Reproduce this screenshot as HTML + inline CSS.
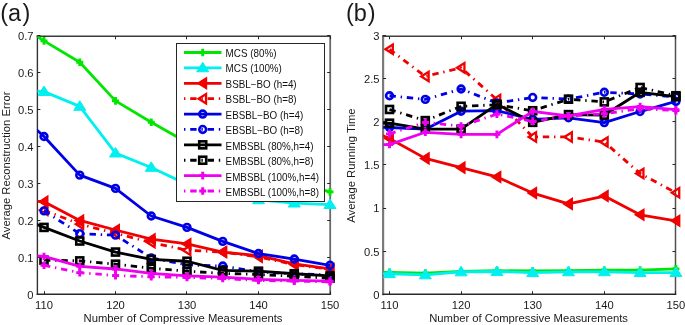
<!DOCTYPE html>
<html><head><meta charset="utf-8"><style>
html,body{margin:0;padding:0;background:#fff;}
body{width:685px;height:325px;overflow:hidden;}
svg{display:block;will-change:transform;filter:blur(0.3px);}
text{font-family:"Liberation Sans",sans-serif;fill:#1a1a1a;}
.t{font-size:11.2px;}
.l{font-size:10px;fill:#111;}
.a{font-size:11.25px;}
.p{font-size:23.5px;}
</style></head><body>
<svg width="685" height="325" viewBox="0 0 685 325">
<rect width="685" height="325" fill="#fff"/>
<path d="M37.4 36.3L37.4 294.2" stroke="#333" stroke-width="1.4" stroke-linecap="square"/>
<path d="M330.2 36.3L330.2 294.2" stroke="#6a6a6a" stroke-width="1.8" stroke-linecap="square"/>
<path d="M37.4 36.3L330.2 36.3" stroke="#3a3a3a" stroke-width="1.4" stroke-linecap="square"/>
<path d="M37.4 294.2L330.2 294.2" stroke="#2a2a2a" stroke-width="1.4" stroke-linecap="square"/>
<path d="M44.5 294.2v-3M44.5 36.3v3M115.5 294.2v-3M115.5 36.3v3M186.5 294.2v-3M186.5 36.3v3M258.5 294.2v-3M258.5 36.3v3M330.5 294.2v-3M330.5 36.3v3M37.4 294.5h3M330.2 294.5h-3M37.4 257.5h3M330.2 257.5h-3M37.4 220.5h3M330.2 220.5h-3M37.4 183.5h3M330.2 183.5h-3M37.4 146.5h3M330.2 146.5h-3M37.4 109.5h3M330.2 109.5h-3M37.4 72.5h3M330.2 72.5h-3M37.4 35.5h3M330.2 35.5h-3" stroke="#262626" stroke-width="1" fill="none"/>
<text x="44.00" y="308.7" text-anchor="middle" class="t">110</text>
<text x="115.50" y="308.7" text-anchor="middle" class="t">120</text>
<text x="187.00" y="308.7" text-anchor="middle" class="t">130</text>
<text x="258.50" y="308.7" text-anchor="middle" class="t">140</text>
<text x="330.00" y="308.7" text-anchor="middle" class="t">150</text>
<text x="33.5" y="298.60" text-anchor="end" class="t">0</text>
<text x="33.5" y="261.65" text-anchor="end" class="t">0.1</text>
<text x="33.5" y="224.70" text-anchor="end" class="t">0.2</text>
<text x="33.5" y="187.75" text-anchor="end" class="t">0.3</text>
<text x="33.5" y="150.80" text-anchor="end" class="t">0.4</text>
<text x="33.5" y="113.85" text-anchor="end" class="t">0.5</text>
<text x="33.5" y="76.90" text-anchor="end" class="t">0.6</text>
<text x="33.5" y="39.95" text-anchor="end" class="t">0.7</text>
<clipPath id="ca"><rect x="37.4" y="36.3" width="292.8" height="257.9"/></clipPath>
<g clip-path="url(#ca)"><path d="M8.25 17.34L44.00 40.88L79.75 62.22L115.50 100.85L151.25 122.19L187.00 142.43L222.75 156.04L258.50 169.65L294.25 181.79L330.00 191.91" fill="none" stroke="#00e600" stroke-width="2.8" stroke-linejoin="round"/></g>
<path d="M40.50 40.88H47.50M44.00 37.08V44.68" stroke="#00e600" stroke-width="2.9" fill="none"/><rect x="42.10" y="38.98" width="3.8" height="3.8" fill="#00e600" transform="rotate(45 44.00 40.88)"/><path d="M76.25 62.22H83.25M79.75 58.42V66.02" stroke="#00e600" stroke-width="2.9" fill="none"/><rect x="77.85" y="60.32" width="3.8" height="3.8" fill="#00e600" transform="rotate(45 79.75 62.22)"/><path d="M112.00 100.85H119.00M115.50 97.05V104.65" stroke="#00e600" stroke-width="2.9" fill="none"/><rect x="113.60" y="98.95" width="3.8" height="3.8" fill="#00e600" transform="rotate(45 115.50 100.85)"/><path d="M147.75 122.19H154.75M151.25 118.39V125.99" stroke="#00e600" stroke-width="2.9" fill="none"/><rect x="149.35" y="120.29" width="3.8" height="3.8" fill="#00e600" transform="rotate(45 151.25 122.19)"/><path d="M183.50 142.43H190.50M187.00 138.63V146.23" stroke="#00e600" stroke-width="2.9" fill="none"/><rect x="185.10" y="140.53" width="3.8" height="3.8" fill="#00e600" transform="rotate(45 187.00 142.43)"/><path d="M219.25 156.04H226.25M222.75 152.24V159.84" stroke="#00e600" stroke-width="2.9" fill="none"/><rect x="220.85" y="154.14" width="3.8" height="3.8" fill="#00e600" transform="rotate(45 222.75 156.04)"/><path d="M255.00 169.65H262.00M258.50 165.85V173.45" stroke="#00e600" stroke-width="2.9" fill="none"/><rect x="256.60" y="167.75" width="3.8" height="3.8" fill="#00e600" transform="rotate(45 258.50 169.65)"/><path d="M290.75 181.79H297.75M294.25 177.99V185.59" stroke="#00e600" stroke-width="2.9" fill="none"/><rect x="292.35" y="179.89" width="3.8" height="3.8" fill="#00e600" transform="rotate(45 294.25 181.79)"/><path d="M326.50 191.91H333.50M330.00 188.11V195.71" stroke="#00e600" stroke-width="2.9" fill="none"/><rect x="328.10" y="190.01" width="3.8" height="3.8" fill="#00e600" transform="rotate(45 330.00 191.91)"/>
<g clip-path="url(#ca)"><path d="M8.25 89.45L44.00 91.66L79.75 106.37L115.50 153.09L151.25 167.44L187.00 184.37L222.75 194.67L258.50 199.82L294.25 203.13L330.00 204.60" fill="none" stroke="#00f0f0" stroke-width="2.8" stroke-linejoin="round"/></g>
<path d="M44.00 86.06L50.00 95.56L38.00 95.56Z" fill="#00f0f0" stroke="#00f0f0" stroke-width="1"/><path d="M79.75 100.77L85.75 110.27L73.75 110.27Z" fill="#00f0f0" stroke="#00f0f0" stroke-width="1"/><path d="M115.50 147.49L121.50 156.99L109.50 156.99Z" fill="#00f0f0" stroke="#00f0f0" stroke-width="1"/><path d="M151.25 161.84L157.25 171.34L145.25 171.34Z" fill="#00f0f0" stroke="#00f0f0" stroke-width="1"/><path d="M187.00 178.77L193.00 188.27L181.00 188.27Z" fill="#00f0f0" stroke="#00f0f0" stroke-width="1"/><path d="M222.75 189.07L228.75 198.57L216.75 198.57Z" fill="#00f0f0" stroke="#00f0f0" stroke-width="1"/><path d="M258.50 194.22L264.50 203.72L252.50 203.72Z" fill="#00f0f0" stroke="#00f0f0" stroke-width="1"/><path d="M294.25 197.53L300.25 207.03L288.25 207.03Z" fill="#00f0f0" stroke="#00f0f0" stroke-width="1"/><path d="M330.00 199.00L336.00 208.50L324.00 208.50Z" fill="#00f0f0" stroke="#00f0f0" stroke-width="1"/>
<g clip-path="url(#ca)"><path d="M8.25 200.19L44.00 201.66L79.75 220.42L115.50 229.99L151.25 239.18L187.00 243.97L222.75 252.06L258.50 255.74L294.25 263.83L330.00 268.98" fill="none" stroke="#f00000" stroke-width="2.8" stroke-linejoin="round"/></g>
<path d="M39.93 201.66L47.33 196.96L47.33 206.36Z" fill="#f00000" stroke="#f00000" stroke-width="2.3" stroke-linejoin="miter"/><path d="M75.68 220.42L83.08 215.72L83.08 225.12Z" fill="#f00000" stroke="#f00000" stroke-width="2.3" stroke-linejoin="miter"/><path d="M111.43 229.99L118.83 225.29L118.83 234.69Z" fill="#f00000" stroke="#f00000" stroke-width="2.3" stroke-linejoin="miter"/><path d="M147.18 239.18L154.58 234.48L154.58 243.88Z" fill="#f00000" stroke="#f00000" stroke-width="2.3" stroke-linejoin="miter"/><path d="M182.93 243.97L190.33 239.27L190.33 248.67Z" fill="#f00000" stroke="#f00000" stroke-width="2.3" stroke-linejoin="miter"/><path d="M218.68 252.06L226.08 247.36L226.08 256.76Z" fill="#f00000" stroke="#f00000" stroke-width="2.3" stroke-linejoin="miter"/><path d="M254.43 255.74L261.83 251.04L261.83 260.44Z" fill="#f00000" stroke="#f00000" stroke-width="2.3" stroke-linejoin="miter"/><path d="M290.18 263.83L297.58 259.13L297.58 268.53Z" fill="#f00000" stroke="#f00000" stroke-width="2.3" stroke-linejoin="miter"/><path d="M325.93 268.98L333.33 264.28L333.33 273.68Z" fill="#f00000" stroke="#f00000" stroke-width="2.3" stroke-linejoin="miter"/>
<g clip-path="url(#ca)"><path d="M44.00 210.12L79.75 224.10L115.50 233.30L151.25 242.49L187.00 250.22L222.75 252.06L258.50 256.84L294.25 264.57L330.00 269.35" fill="none" stroke="#f00000" stroke-width="2.8" stroke-linejoin="round" stroke-dasharray="6.4 4.8 1.4 4.8"/></g>
<path d="M39.93 210.12L47.33 205.42L47.33 214.82Z" fill="none" stroke="#f00000" stroke-width="2.3" stroke-linejoin="miter"/><path d="M75.68 224.10L83.08 219.40L83.08 228.80Z" fill="none" stroke="#f00000" stroke-width="2.3" stroke-linejoin="miter"/><path d="M111.43 233.30L118.83 228.60L118.83 238.00Z" fill="none" stroke="#f00000" stroke-width="2.3" stroke-linejoin="miter"/><path d="M147.18 242.49L154.58 237.79L154.58 247.19Z" fill="none" stroke="#f00000" stroke-width="2.3" stroke-linejoin="miter"/><path d="M182.93 250.22L190.33 245.52L190.33 254.92Z" fill="none" stroke="#f00000" stroke-width="2.3" stroke-linejoin="miter"/><path d="M218.68 252.06L226.08 247.36L226.08 256.76Z" fill="none" stroke="#f00000" stroke-width="2.3" stroke-linejoin="miter"/><path d="M254.43 256.84L261.83 252.14L261.83 261.54Z" fill="none" stroke="#f00000" stroke-width="2.3" stroke-linejoin="miter"/><path d="M290.18 264.57L297.58 259.87L297.58 269.27Z" fill="none" stroke="#f00000" stroke-width="2.3" stroke-linejoin="miter"/><path d="M325.93 269.35L333.33 264.65L333.33 274.05Z" fill="none" stroke="#f00000" stroke-width="2.3" stroke-linejoin="miter"/>
<g clip-path="url(#ca)"><path d="M8.25 103.80L44.00 136.54L79.75 175.17L115.50 188.41L151.25 216.01L187.00 227.41L222.75 241.39L258.50 253.53L294.25 259.05L330.00 265.30" fill="none" stroke="#0000e6" stroke-width="2.8" stroke-linejoin="round"/></g>
<circle cx="44.00" cy="136.54" r="3.4" fill="none" stroke="#0000e6" stroke-width="2.6"/><circle cx="79.75" cy="175.17" r="3.4" fill="none" stroke="#0000e6" stroke-width="2.6"/><circle cx="115.50" cy="188.41" r="3.4" fill="none" stroke="#0000e6" stroke-width="2.6"/><circle cx="151.25" cy="216.01" r="3.4" fill="none" stroke="#0000e6" stroke-width="2.6"/><circle cx="187.00" cy="227.41" r="3.4" fill="none" stroke="#0000e6" stroke-width="2.6"/><circle cx="222.75" cy="241.39" r="3.4" fill="none" stroke="#0000e6" stroke-width="2.6"/><circle cx="258.50" cy="253.53" r="3.4" fill="none" stroke="#0000e6" stroke-width="2.6"/><circle cx="294.25" cy="259.05" r="3.4" fill="none" stroke="#0000e6" stroke-width="2.6"/><circle cx="330.00" cy="265.30" r="3.4" fill="none" stroke="#0000e6" stroke-width="2.6"/>
<g clip-path="url(#ca)"><path d="M44.00 210.85L79.75 233.66L115.50 235.14L151.25 257.95L187.00 264.94L222.75 266.04L258.50 271.93L294.25 273.77L330.00 274.87" fill="none" stroke="#0000e6" stroke-width="2.8" stroke-linejoin="round" stroke-dasharray="6.4 4.8 1.4 4.8"/></g>
<circle cx="44.00" cy="210.85" r="3.4" fill="none" stroke="#0000e6" stroke-width="2.6"/><circle cx="79.75" cy="233.66" r="3.4" fill="none" stroke="#0000e6" stroke-width="2.6"/><circle cx="115.50" cy="235.14" r="3.4" fill="none" stroke="#0000e6" stroke-width="2.6"/><circle cx="151.25" cy="257.95" r="3.4" fill="none" stroke="#0000e6" stroke-width="2.6"/><circle cx="187.00" cy="264.94" r="3.4" fill="none" stroke="#0000e6" stroke-width="2.6"/><circle cx="222.75" cy="266.04" r="3.4" fill="none" stroke="#0000e6" stroke-width="2.6"/><circle cx="258.50" cy="271.93" r="3.4" fill="none" stroke="#0000e6" stroke-width="2.6"/><circle cx="294.25" cy="273.77" r="3.4" fill="none" stroke="#0000e6" stroke-width="2.6"/><circle cx="330.00" cy="274.87" r="3.4" fill="none" stroke="#0000e6" stroke-width="2.6"/>
<g clip-path="url(#ca)"><path d="M8.25 213.06L44.00 227.41L79.75 241.02L115.50 252.06L151.25 259.42L187.00 261.26L222.75 270.45L258.50 271.19L294.25 273.77L330.00 275.97" fill="none" stroke="#000000" stroke-width="2.8" stroke-linejoin="round"/></g>
<rect x="40.50" y="223.91" width="7.00" height="7.00" fill="none" stroke="#000000" stroke-width="2.6"/><rect x="76.25" y="237.52" width="7.00" height="7.00" fill="none" stroke="#000000" stroke-width="2.6"/><rect x="112.00" y="248.56" width="7.00" height="7.00" fill="none" stroke="#000000" stroke-width="2.6"/><rect x="147.75" y="255.92" width="7.00" height="7.00" fill="none" stroke="#000000" stroke-width="2.6"/><rect x="183.50" y="257.76" width="7.00" height="7.00" fill="none" stroke="#000000" stroke-width="2.6"/><rect x="219.25" y="266.95" width="7.00" height="7.00" fill="none" stroke="#000000" stroke-width="2.6"/><rect x="255.00" y="267.69" width="7.00" height="7.00" fill="none" stroke="#000000" stroke-width="2.6"/><rect x="290.75" y="270.27" width="7.00" height="7.00" fill="none" stroke="#000000" stroke-width="2.6"/><rect x="326.50" y="272.47" width="7.00" height="7.00" fill="none" stroke="#000000" stroke-width="2.6"/>
<g clip-path="url(#ca)"><path d="M44.00 260.15L79.75 260.89L115.50 264.20L151.25 268.25L187.00 271.19L222.75 273.40L258.50 274.50L294.25 276.34L330.00 278.18" fill="none" stroke="#000000" stroke-width="2.8" stroke-linejoin="round" stroke-dasharray="6.4 4.8 1.4 4.8"/></g>
<rect x="40.50" y="256.65" width="7.00" height="7.00" fill="none" stroke="#000000" stroke-width="2.6"/><rect x="76.25" y="257.39" width="7.00" height="7.00" fill="none" stroke="#000000" stroke-width="2.6"/><rect x="112.00" y="260.70" width="7.00" height="7.00" fill="none" stroke="#000000" stroke-width="2.6"/><rect x="147.75" y="264.75" width="7.00" height="7.00" fill="none" stroke="#000000" stroke-width="2.6"/><rect x="183.50" y="267.69" width="7.00" height="7.00" fill="none" stroke="#000000" stroke-width="2.6"/><rect x="219.25" y="269.90" width="7.00" height="7.00" fill="none" stroke="#000000" stroke-width="2.6"/><rect x="255.00" y="271.00" width="7.00" height="7.00" fill="none" stroke="#000000" stroke-width="2.6"/><rect x="290.75" y="272.84" width="7.00" height="7.00" fill="none" stroke="#000000" stroke-width="2.6"/><rect x="326.50" y="274.68" width="7.00" height="7.00" fill="none" stroke="#000000" stroke-width="2.6"/>
<g clip-path="url(#ca)"><path d="M8.25 253.53L44.00 256.47L79.75 266.41L115.50 268.98L151.25 273.40L187.00 275.97L222.75 277.08L258.50 279.28L294.25 280.39L330.00 281.12" fill="none" stroke="#f000f0" stroke-width="2.8" stroke-linejoin="round"/></g>
<path d="M40.50 256.47H47.50M44.00 252.67V260.27" stroke="#f000f0" stroke-width="2.9" fill="none"/><rect x="42.10" y="254.57" width="3.8" height="3.8" fill="#f000f0" transform="rotate(45 44.00 256.47)"/><path d="M76.25 266.41H83.25M79.75 262.61V270.21" stroke="#f000f0" stroke-width="2.9" fill="none"/><rect x="77.85" y="264.51" width="3.8" height="3.8" fill="#f000f0" transform="rotate(45 79.75 266.41)"/><path d="M112.00 268.98H119.00M115.50 265.18V272.78" stroke="#f000f0" stroke-width="2.9" fill="none"/><rect x="113.60" y="267.08" width="3.8" height="3.8" fill="#f000f0" transform="rotate(45 115.50 268.98)"/><path d="M147.75 273.40H154.75M151.25 269.60V277.20" stroke="#f000f0" stroke-width="2.9" fill="none"/><rect x="149.35" y="271.50" width="3.8" height="3.8" fill="#f000f0" transform="rotate(45 151.25 273.40)"/><path d="M183.50 275.97H190.50M187.00 272.17V279.77" stroke="#f000f0" stroke-width="2.9" fill="none"/><rect x="185.10" y="274.07" width="3.8" height="3.8" fill="#f000f0" transform="rotate(45 187.00 275.97)"/><path d="M219.25 277.08H226.25M222.75 273.28V280.88" stroke="#f000f0" stroke-width="2.9" fill="none"/><rect x="220.85" y="275.18" width="3.8" height="3.8" fill="#f000f0" transform="rotate(45 222.75 277.08)"/><path d="M255.00 279.28H262.00M258.50 275.48V283.08" stroke="#f000f0" stroke-width="2.9" fill="none"/><rect x="256.60" y="277.38" width="3.8" height="3.8" fill="#f000f0" transform="rotate(45 258.50 279.28)"/><path d="M290.75 280.39H297.75M294.25 276.59V284.19" stroke="#f000f0" stroke-width="2.9" fill="none"/><rect x="292.35" y="278.49" width="3.8" height="3.8" fill="#f000f0" transform="rotate(45 294.25 280.39)"/><path d="M326.50 281.12H333.50M330.00 277.32V284.92" stroke="#f000f0" stroke-width="2.9" fill="none"/><rect x="328.10" y="279.22" width="3.8" height="3.8" fill="#f000f0" transform="rotate(45 330.00 281.12)"/>
<g clip-path="url(#ca)"><path d="M44.00 265.30L79.75 272.66L115.50 275.61L151.25 276.71L187.00 277.44L222.75 278.55L258.50 280.39L294.25 281.12L330.00 281.86" fill="none" stroke="#f000f0" stroke-width="2.8" stroke-linejoin="round" stroke-dasharray="6.4 4.8 1.4 4.8"/></g>
<path d="M40.50 265.30H47.50M44.00 261.50V269.10" stroke="#f000f0" stroke-width="2.9" fill="none"/><rect x="42.10" y="263.40" width="3.8" height="3.8" fill="#f000f0" transform="rotate(45 44.00 265.30)"/><path d="M76.25 272.66H83.25M79.75 268.86V276.46" stroke="#f000f0" stroke-width="2.9" fill="none"/><rect x="77.85" y="270.76" width="3.8" height="3.8" fill="#f000f0" transform="rotate(45 79.75 272.66)"/><path d="M112.00 275.61H119.00M115.50 271.81V279.41" stroke="#f000f0" stroke-width="2.9" fill="none"/><rect x="113.60" y="273.71" width="3.8" height="3.8" fill="#f000f0" transform="rotate(45 115.50 275.61)"/><path d="M147.75 276.71H154.75M151.25 272.91V280.51" stroke="#f000f0" stroke-width="2.9" fill="none"/><rect x="149.35" y="274.81" width="3.8" height="3.8" fill="#f000f0" transform="rotate(45 151.25 276.71)"/><path d="M183.50 277.44H190.50M187.00 273.64V281.24" stroke="#f000f0" stroke-width="2.9" fill="none"/><rect x="185.10" y="275.54" width="3.8" height="3.8" fill="#f000f0" transform="rotate(45 187.00 277.44)"/><path d="M219.25 278.55H226.25M222.75 274.75V282.35" stroke="#f000f0" stroke-width="2.9" fill="none"/><rect x="220.85" y="276.65" width="3.8" height="3.8" fill="#f000f0" transform="rotate(45 222.75 278.55)"/><path d="M255.00 280.39H262.00M258.50 276.59V284.19" stroke="#f000f0" stroke-width="2.9" fill="none"/><rect x="256.60" y="278.49" width="3.8" height="3.8" fill="#f000f0" transform="rotate(45 258.50 280.39)"/><path d="M290.75 281.12H297.75M294.25 277.32V284.92" stroke="#f000f0" stroke-width="2.9" fill="none"/><rect x="292.35" y="279.22" width="3.8" height="3.8" fill="#f000f0" transform="rotate(45 294.25 281.12)"/><path d="M326.50 281.86H333.50M330.00 278.06V285.66" stroke="#f000f0" stroke-width="2.9" fill="none"/><rect x="328.10" y="279.96" width="3.8" height="3.8" fill="#f000f0" transform="rotate(45 330.00 281.86)"/>
<rect x="176.5" y="43.5" width="148.0" height="158.0" fill="#fff" stroke="#262626" stroke-width="1"/>
<path d="M184 52.50H221.5" stroke="#00e600" stroke-width="2.8"/>
<path d="M199.20 52.50H206.20M202.70 48.70V56.30" stroke="#00e600" stroke-width="2.9" fill="none"/><rect x="200.80" y="50.60" width="3.8" height="3.8" fill="#00e600" transform="rotate(45 202.70 52.50)"/>
<text transform="translate(225.6 56.95) scale(0.985 1)" class="l">MCS (80%)</text>
<path d="M184 67.89H221.5" stroke="#00f0f0" stroke-width="2.8"/>
<path d="M202.70 62.29L208.70 71.79L196.70 71.79Z" fill="#00f0f0" stroke="#00f0f0" stroke-width="1"/>
<text transform="translate(225.6 72.40) scale(0.985 1)" class="l">MCS (100%)</text>
<path d="M184 83.28H221.5" stroke="#f00000" stroke-width="2.8"/>
<path d="M198.63 83.28L206.03 78.58L206.03 87.98Z" fill="#f00000" stroke="#f00000" stroke-width="2.3" stroke-linejoin="miter"/>
<text transform="translate(225.6 87.85) scale(0.985 1)" class="l">BSBL&#8722;BO (h=4)</text>
<path d="M184 98.67H221.5" stroke="#f00000" stroke-width="2.8" stroke-dasharray="1.4 4.8 6.4 4.8"/>
<path d="M198.63 98.67L206.03 93.97L206.03 103.37Z" fill="none" stroke="#f00000" stroke-width="2.3" stroke-linejoin="miter"/>
<text transform="translate(225.6 103.30) scale(0.985 1)" class="l">BSBL&#8722;BO (h=8)</text>
<path d="M184 114.06H221.5" stroke="#0000e6" stroke-width="2.8"/>
<circle cx="202.70" cy="114.06" r="3.4" fill="none" stroke="#0000e6" stroke-width="2.6"/>
<text transform="translate(225.6 118.75) scale(0.985 1)" class="l">EBSBL&#8722;BO (h=4)</text>
<path d="M184 129.45H221.5" stroke="#0000e6" stroke-width="2.8" stroke-dasharray="1.4 4.8 6.4 4.8"/>
<circle cx="202.70" cy="129.45" r="3.4" fill="none" stroke="#0000e6" stroke-width="2.6"/>
<text transform="translate(225.6 134.20) scale(0.985 1)" class="l">EBSBL&#8722;BO (h=8)</text>
<path d="M184 144.84H221.5" stroke="#000000" stroke-width="2.8"/>
<rect x="199.20" y="141.34" width="7.00" height="7.00" fill="none" stroke="#000000" stroke-width="2.6"/>
<text transform="translate(225.6 149.65) scale(0.985 1)" class="l">EMBSBL (80%,h=4)</text>
<path d="M184 160.23H221.5" stroke="#000000" stroke-width="2.8" stroke-dasharray="1.4 4.8 6.4 4.8"/>
<rect x="199.20" y="156.73" width="7.00" height="7.00" fill="none" stroke="#000000" stroke-width="2.6"/>
<text transform="translate(225.6 165.10) scale(0.985 1)" class="l">EMBSBL (80%,h=8)</text>
<path d="M184 175.62H221.5" stroke="#f000f0" stroke-width="2.8"/>
<path d="M199.20 175.62H206.20M202.70 171.82V179.42" stroke="#f000f0" stroke-width="2.9" fill="none"/><rect x="200.80" y="173.72" width="3.8" height="3.8" fill="#f000f0" transform="rotate(45 202.70 175.62)"/>
<text transform="translate(225.6 180.55) scale(0.985 1)" class="l">EMBSBL (100%,h=4)</text>
<path d="M184 191.01H221.5" stroke="#f000f0" stroke-width="2.8" stroke-dasharray="1.4 4.8 6.4 4.8"/>
<path d="M199.20 191.01H206.20M202.70 187.21V194.81" stroke="#f000f0" stroke-width="2.9" fill="none"/><rect x="200.80" y="189.11" width="3.8" height="3.8" fill="#f000f0" transform="rotate(45 202.70 191.01)"/>
<text transform="translate(225.6 196.00) scale(0.985 1)" class="l">EMBSBL (100%,h=8)</text>
<path d="M383.1 36.3L383.1 294.2" stroke="#7a7a7a" stroke-width="2.2" stroke-linecap="square"/>
<path d="M675.5 36.3L675.5 294.2" stroke="#505050" stroke-width="1.5" stroke-linecap="square"/>
<path d="M383.1 36.3L675.5 36.3" stroke="#404040" stroke-width="1.5" stroke-linecap="square"/>
<path d="M383.1 294.2L675.5 294.2" stroke="#2a2a2a" stroke-width="1.4" stroke-linecap="square"/>
<path d="M389.5 294.2v-3M389.5 36.3v3M461.5 294.2v-3M461.5 36.3v3M532.5 294.2v-3M532.5 36.3v3M604.5 294.2v-3M604.5 36.3v3M675.5 294.2v-3M675.5 36.3v3M383.1 294.5h3M675.5 294.5h-3M383.1 251.5h3M675.5 251.5h-3M383.1 208.5h3M675.5 208.5h-3M383.1 164.5h3M675.5 164.5h-3M383.1 121.5h3M675.5 121.5h-3M383.1 78.5h3M675.5 78.5h-3M383.1 35.5h3M675.5 35.5h-3" stroke="#262626" stroke-width="1" fill="none"/>
<text x="389.50" y="308.7" text-anchor="middle" class="t">110</text>
<text x="461.10" y="308.7" text-anchor="middle" class="t">120</text>
<text x="532.70" y="308.7" text-anchor="middle" class="t">130</text>
<text x="604.30" y="308.7" text-anchor="middle" class="t">140</text>
<text x="675.90" y="308.7" text-anchor="middle" class="t">150</text>
<text x="379.5" y="298.70" text-anchor="end" class="t">0</text>
<text x="379.5" y="255.55" text-anchor="end" class="t">0.5</text>
<text x="379.5" y="212.40" text-anchor="end" class="t">1</text>
<text x="379.5" y="169.25" text-anchor="end" class="t">1.5</text>
<text x="379.5" y="126.10" text-anchor="end" class="t">2</text>
<text x="379.5" y="82.95" text-anchor="end" class="t">2.5</text>
<text x="379.5" y="39.80" text-anchor="end" class="t">3</text>
<clipPath id="cb"><rect x="383.1" y="36.3" width="292.4" height="257.9"/></clipPath>
<g clip-path="url(#cb)"><path d="M353.70 272.37L389.50 272.37L425.30 273.14L461.10 271.51L496.90 270.65L532.70 271.00L568.50 270.57L604.30 270.23L640.10 270.14L675.90 268.85" fill="none" stroke="#00e600" stroke-width="2.8" stroke-linejoin="round"/></g>
<path d="M386.00 272.37H393.00M389.50 268.57V276.17" stroke="#00e600" stroke-width="2.9" fill="none"/><rect x="387.60" y="270.47" width="3.8" height="3.8" fill="#00e600" transform="rotate(45 389.50 272.37)"/><path d="M421.80 273.14H428.80M425.30 269.34V276.94" stroke="#00e600" stroke-width="2.9" fill="none"/><rect x="423.40" y="271.24" width="3.8" height="3.8" fill="#00e600" transform="rotate(45 425.30 273.14)"/><path d="M457.60 271.51H464.60M461.10 267.71V275.31" stroke="#00e600" stroke-width="2.9" fill="none"/><rect x="459.20" y="269.61" width="3.8" height="3.8" fill="#00e600" transform="rotate(45 461.10 271.51)"/><path d="M493.40 270.65H500.40M496.90 266.85V274.45" stroke="#00e600" stroke-width="2.9" fill="none"/><rect x="495.00" y="268.75" width="3.8" height="3.8" fill="#00e600" transform="rotate(45 496.90 270.65)"/><path d="M529.20 271.00H536.20M532.70 267.20V274.80" stroke="#00e600" stroke-width="2.9" fill="none"/><rect x="530.80" y="269.10" width="3.8" height="3.8" fill="#00e600" transform="rotate(45 532.70 271.00)"/><path d="M565.00 270.57H572.00M568.50 266.77V274.37" stroke="#00e600" stroke-width="2.9" fill="none"/><rect x="566.60" y="268.67" width="3.8" height="3.8" fill="#00e600" transform="rotate(45 568.50 270.57)"/><path d="M600.80 270.23H607.80M604.30 266.43V274.03" stroke="#00e600" stroke-width="2.9" fill="none"/><rect x="602.40" y="268.33" width="3.8" height="3.8" fill="#00e600" transform="rotate(45 604.30 270.23)"/><path d="M636.60 270.14H643.60M640.10 266.34V273.94" stroke="#00e600" stroke-width="2.9" fill="none"/><rect x="638.20" y="268.24" width="3.8" height="3.8" fill="#00e600" transform="rotate(45 640.10 270.14)"/><path d="M672.40 268.85H679.40M675.90 265.05V272.65" stroke="#00e600" stroke-width="2.9" fill="none"/><rect x="674.00" y="266.95" width="3.8" height="3.8" fill="#00e600" transform="rotate(45 675.90 268.85)"/>
<g clip-path="url(#cb)"><path d="M353.70 273.57L389.50 273.74L425.30 274.95L461.10 271.94L496.90 271.51L532.70 272.71L568.50 271.86L604.30 271.86L640.10 272.54L675.90 272.54" fill="none" stroke="#00f0f0" stroke-width="2.8" stroke-linejoin="round"/></g>
<path d="M389.50 268.14L395.50 277.64L383.50 277.64Z" fill="#00f0f0" stroke="#00f0f0" stroke-width="1"/><path d="M425.30 269.35L431.30 278.85L419.30 278.85Z" fill="#00f0f0" stroke="#00f0f0" stroke-width="1"/><path d="M461.10 266.34L467.10 275.84L455.10 275.84Z" fill="#00f0f0" stroke="#00f0f0" stroke-width="1"/><path d="M496.90 265.91L502.90 275.41L490.90 275.41Z" fill="#00f0f0" stroke="#00f0f0" stroke-width="1"/><path d="M532.70 267.11L538.70 276.61L526.70 276.61Z" fill="#00f0f0" stroke="#00f0f0" stroke-width="1"/><path d="M568.50 266.26L574.50 275.76L562.50 275.76Z" fill="#00f0f0" stroke="#00f0f0" stroke-width="1"/><path d="M604.30 266.26L610.30 275.76L598.30 275.76Z" fill="#00f0f0" stroke="#00f0f0" stroke-width="1"/><path d="M640.10 266.94L646.10 276.44L634.10 276.44Z" fill="#00f0f0" stroke="#00f0f0" stroke-width="1"/><path d="M675.90 266.94L681.90 276.44L669.90 276.44Z" fill="#00f0f0" stroke="#00f0f0" stroke-width="1"/>
<g clip-path="url(#cb)"><path d="M353.70 124.06L389.50 138.48L425.30 158.39L461.10 167.66L496.90 176.93L532.70 193.06L568.50 203.88L604.30 196.07L640.10 214.78L675.90 220.79" fill="none" stroke="#f00000" stroke-width="2.8" stroke-linejoin="round"/></g>
<path d="M385.43 138.48L392.83 133.78L392.83 143.18Z" fill="#f00000" stroke="#f00000" stroke-width="2.3" stroke-linejoin="miter"/><path d="M421.23 158.39L428.63 153.69L428.63 163.09Z" fill="#f00000" stroke="#f00000" stroke-width="2.3" stroke-linejoin="miter"/><path d="M457.03 167.66L464.43 162.96L464.43 172.36Z" fill="#f00000" stroke="#f00000" stroke-width="2.3" stroke-linejoin="miter"/><path d="M492.83 176.93L500.23 172.23L500.23 181.63Z" fill="#f00000" stroke="#f00000" stroke-width="2.3" stroke-linejoin="miter"/><path d="M528.63 193.06L536.03 188.36L536.03 197.76Z" fill="#f00000" stroke="#f00000" stroke-width="2.3" stroke-linejoin="miter"/><path d="M564.43 203.88L571.83 199.18L571.83 208.58Z" fill="#f00000" stroke="#f00000" stroke-width="2.3" stroke-linejoin="miter"/><path d="M600.23 196.07L607.63 191.37L607.63 200.77Z" fill="#f00000" stroke="#f00000" stroke-width="2.3" stroke-linejoin="miter"/><path d="M636.03 214.78L643.43 210.08L643.43 219.48Z" fill="#f00000" stroke="#f00000" stroke-width="2.3" stroke-linejoin="miter"/><path d="M671.83 220.79L679.23 216.09L679.23 225.49Z" fill="#f00000" stroke="#f00000" stroke-width="2.3" stroke-linejoin="miter"/>
<g clip-path="url(#cb)"><path d="M389.50 49.30L425.30 76.42L461.10 67.84L496.90 99.60L532.70 136.93L568.50 136.93L604.30 142.00L640.10 173.49L675.90 192.81" fill="none" stroke="#f00000" stroke-width="2.8" stroke-linejoin="round" stroke-dasharray="6.4 4.8 1.4 4.8"/></g>
<path d="M385.43 49.30L392.83 44.60L392.83 54.00Z" fill="none" stroke="#f00000" stroke-width="2.3" stroke-linejoin="miter"/><path d="M421.23 76.42L428.63 71.72L428.63 81.12Z" fill="none" stroke="#f00000" stroke-width="2.3" stroke-linejoin="miter"/><path d="M457.03 67.84L464.43 63.14L464.43 72.54Z" fill="none" stroke="#f00000" stroke-width="2.3" stroke-linejoin="miter"/><path d="M492.83 99.60L500.23 94.90L500.23 104.30Z" fill="none" stroke="#f00000" stroke-width="2.3" stroke-linejoin="miter"/><path d="M528.63 136.93L536.03 132.23L536.03 141.63Z" fill="none" stroke="#f00000" stroke-width="2.3" stroke-linejoin="miter"/><path d="M564.43 136.93L571.83 132.23L571.83 141.63Z" fill="none" stroke="#f00000" stroke-width="2.3" stroke-linejoin="miter"/><path d="M600.23 142.00L607.63 137.30L607.63 146.70Z" fill="none" stroke="#f00000" stroke-width="2.3" stroke-linejoin="miter"/><path d="M636.03 173.49L643.43 168.79L643.43 178.19Z" fill="none" stroke="#f00000" stroke-width="2.3" stroke-linejoin="miter"/><path d="M671.83 192.81L679.23 188.11L679.23 197.51Z" fill="none" stroke="#f00000" stroke-width="2.3" stroke-linejoin="miter"/>
<g clip-path="url(#cb)"><path d="M353.70 126.63L389.50 127.49L425.30 129.21L461.10 111.18L496.90 110.67L532.70 119.34L568.50 117.79L604.30 122.60L640.10 111.53L675.90 101.40" fill="none" stroke="#0000e6" stroke-width="2.8" stroke-linejoin="round"/></g>
<circle cx="389.50" cy="127.49" r="3.4" fill="none" stroke="#0000e6" stroke-width="2.6"/><circle cx="425.30" cy="129.21" r="3.4" fill="none" stroke="#0000e6" stroke-width="2.6"/><circle cx="461.10" cy="111.18" r="3.4" fill="none" stroke="#0000e6" stroke-width="2.6"/><circle cx="496.90" cy="110.67" r="3.4" fill="none" stroke="#0000e6" stroke-width="2.6"/><circle cx="532.70" cy="119.34" r="3.4" fill="none" stroke="#0000e6" stroke-width="2.6"/><circle cx="568.50" cy="117.79" r="3.4" fill="none" stroke="#0000e6" stroke-width="2.6"/><circle cx="604.30" cy="122.60" r="3.4" fill="none" stroke="#0000e6" stroke-width="2.6"/><circle cx="640.10" cy="111.53" r="3.4" fill="none" stroke="#0000e6" stroke-width="2.6"/><circle cx="675.90" cy="101.40" r="3.4" fill="none" stroke="#0000e6" stroke-width="2.6"/>
<g clip-path="url(#cb)"><path d="M389.50 95.73L425.30 99.42L461.10 89.04L496.90 103.03L532.70 97.45L568.50 99.17L604.30 92.30L640.10 94.02L675.90 96.85" fill="none" stroke="#0000e6" stroke-width="2.8" stroke-linejoin="round" stroke-dasharray="6.4 4.8 1.4 4.8"/></g>
<circle cx="389.50" cy="95.73" r="3.4" fill="none" stroke="#0000e6" stroke-width="2.6"/><circle cx="425.30" cy="99.42" r="3.4" fill="none" stroke="#0000e6" stroke-width="2.6"/><circle cx="461.10" cy="89.04" r="3.4" fill="none" stroke="#0000e6" stroke-width="2.6"/><circle cx="496.90" cy="103.03" r="3.4" fill="none" stroke="#0000e6" stroke-width="2.6"/><circle cx="532.70" cy="97.45" r="3.4" fill="none" stroke="#0000e6" stroke-width="2.6"/><circle cx="568.50" cy="99.17" r="3.4" fill="none" stroke="#0000e6" stroke-width="2.6"/><circle cx="604.30" cy="92.30" r="3.4" fill="none" stroke="#0000e6" stroke-width="2.6"/><circle cx="640.10" cy="94.02" r="3.4" fill="none" stroke="#0000e6" stroke-width="2.6"/><circle cx="675.90" cy="96.85" r="3.4" fill="none" stroke="#0000e6" stroke-width="2.6"/>
<g clip-path="url(#cb)"><path d="M353.70 123.20L389.50 123.20L425.30 129.21L461.10 129.12L496.90 104.32L532.70 122.34L568.50 114.62L604.30 115.04L640.10 92.30L675.90 96.59" fill="none" stroke="#000000" stroke-width="2.8" stroke-linejoin="round"/></g>
<rect x="386.00" y="119.70" width="7.00" height="7.00" fill="none" stroke="#000000" stroke-width="2.6"/><rect x="421.80" y="125.71" width="7.00" height="7.00" fill="none" stroke="#000000" stroke-width="2.6"/><rect x="457.60" y="125.62" width="7.00" height="7.00" fill="none" stroke="#000000" stroke-width="2.6"/><rect x="493.40" y="100.82" width="7.00" height="7.00" fill="none" stroke="#000000" stroke-width="2.6"/><rect x="529.20" y="118.84" width="7.00" height="7.00" fill="none" stroke="#000000" stroke-width="2.6"/><rect x="565.00" y="111.12" width="7.00" height="7.00" fill="none" stroke="#000000" stroke-width="2.6"/><rect x="600.80" y="111.54" width="7.00" height="7.00" fill="none" stroke="#000000" stroke-width="2.6"/><rect x="636.60" y="88.80" width="7.00" height="7.00" fill="none" stroke="#000000" stroke-width="2.6"/><rect x="672.40" y="93.09" width="7.00" height="7.00" fill="none" stroke="#000000" stroke-width="2.6"/>
<g clip-path="url(#cb)"><path d="M389.50 109.47L425.30 120.62L461.10 106.29L496.90 104.74L532.70 110.75L568.50 99.17L604.30 101.91L640.10 87.49L675.90 95.73" fill="none" stroke="#000000" stroke-width="2.8" stroke-linejoin="round" stroke-dasharray="6.4 4.8 1.4 4.8"/></g>
<rect x="386.00" y="105.97" width="7.00" height="7.00" fill="none" stroke="#000000" stroke-width="2.6"/><rect x="421.80" y="117.12" width="7.00" height="7.00" fill="none" stroke="#000000" stroke-width="2.6"/><rect x="457.60" y="102.79" width="7.00" height="7.00" fill="none" stroke="#000000" stroke-width="2.6"/><rect x="493.40" y="101.24" width="7.00" height="7.00" fill="none" stroke="#000000" stroke-width="2.6"/><rect x="529.20" y="107.25" width="7.00" height="7.00" fill="none" stroke="#000000" stroke-width="2.6"/><rect x="565.00" y="95.67" width="7.00" height="7.00" fill="none" stroke="#000000" stroke-width="2.6"/><rect x="600.80" y="98.41" width="7.00" height="7.00" fill="none" stroke="#000000" stroke-width="2.6"/><rect x="636.60" y="83.99" width="7.00" height="7.00" fill="none" stroke="#000000" stroke-width="2.6"/><rect x="672.40" y="92.23" width="7.00" height="7.00" fill="none" stroke="#000000" stroke-width="2.6"/>
<g clip-path="url(#cb)"><path d="M353.70 144.48L389.50 144.57L425.30 132.30L461.10 134.36L496.90 134.36L532.70 111.35L568.50 115.99L604.30 109.29L640.10 106.55L675.90 109.72" fill="none" stroke="#f000f0" stroke-width="2.8" stroke-linejoin="round"/></g>
<path d="M386.00 144.57H393.00M389.50 140.77V148.37" stroke="#f000f0" stroke-width="2.9" fill="none"/><rect x="387.60" y="142.67" width="3.8" height="3.8" fill="#f000f0" transform="rotate(45 389.50 144.57)"/><path d="M421.80 132.30H428.80M425.30 128.50V136.10" stroke="#f000f0" stroke-width="2.9" fill="none"/><rect x="423.40" y="130.40" width="3.8" height="3.8" fill="#f000f0" transform="rotate(45 425.30 132.30)"/><path d="M457.60 134.36H464.60M461.10 130.56V138.16" stroke="#f000f0" stroke-width="2.9" fill="none"/><rect x="459.20" y="132.46" width="3.8" height="3.8" fill="#f000f0" transform="rotate(45 461.10 134.36)"/><path d="M493.40 134.36H500.40M496.90 130.56V138.16" stroke="#f000f0" stroke-width="2.9" fill="none"/><rect x="495.00" y="132.46" width="3.8" height="3.8" fill="#f000f0" transform="rotate(45 496.90 134.36)"/><path d="M529.20 111.35H536.20M532.70 107.55V115.15" stroke="#f000f0" stroke-width="2.9" fill="none"/><rect x="530.80" y="109.45" width="3.8" height="3.8" fill="#f000f0" transform="rotate(45 532.70 111.35)"/><path d="M565.00 115.99H572.00M568.50 112.19V119.79" stroke="#f000f0" stroke-width="2.9" fill="none"/><rect x="566.60" y="114.09" width="3.8" height="3.8" fill="#f000f0" transform="rotate(45 568.50 115.99)"/><path d="M600.80 109.29H607.80M604.30 105.49V113.09" stroke="#f000f0" stroke-width="2.9" fill="none"/><rect x="602.40" y="107.39" width="3.8" height="3.8" fill="#f000f0" transform="rotate(45 604.30 109.29)"/><path d="M636.60 106.55H643.60M640.10 102.75V110.35" stroke="#f000f0" stroke-width="2.9" fill="none"/><rect x="638.20" y="104.65" width="3.8" height="3.8" fill="#f000f0" transform="rotate(45 640.10 106.55)"/><path d="M672.40 109.72H679.40M675.90 105.92V113.52" stroke="#f000f0" stroke-width="2.9" fill="none"/><rect x="674.00" y="107.82" width="3.8" height="3.8" fill="#f000f0" transform="rotate(45 675.90 109.72)"/>
<g clip-path="url(#cb)"><path d="M389.50 133.84L425.30 122.34L461.10 126.12L496.90 114.10L532.70 121.48L568.50 115.99L604.30 113.76L640.10 108.69L675.90 110.58" fill="none" stroke="#f000f0" stroke-width="2.8" stroke-linejoin="round" stroke-dasharray="6.4 4.8 1.4 4.8"/></g>
<path d="M386.00 133.84H393.00M389.50 130.04V137.64" stroke="#f000f0" stroke-width="2.9" fill="none"/><rect x="387.60" y="131.94" width="3.8" height="3.8" fill="#f000f0" transform="rotate(45 389.50 133.84)"/><path d="M421.80 122.34H428.80M425.30 118.54V126.14" stroke="#f000f0" stroke-width="2.9" fill="none"/><rect x="423.40" y="120.44" width="3.8" height="3.8" fill="#f000f0" transform="rotate(45 425.30 122.34)"/><path d="M457.60 126.12H464.60M461.10 122.32V129.92" stroke="#f000f0" stroke-width="2.9" fill="none"/><rect x="459.20" y="124.22" width="3.8" height="3.8" fill="#f000f0" transform="rotate(45 461.10 126.12)"/><path d="M493.40 114.10H500.40M496.90 110.30V117.90" stroke="#f000f0" stroke-width="2.9" fill="none"/><rect x="495.00" y="112.20" width="3.8" height="3.8" fill="#f000f0" transform="rotate(45 496.90 114.10)"/><path d="M529.20 121.48H536.20M532.70 117.68V125.28" stroke="#f000f0" stroke-width="2.9" fill="none"/><rect x="530.80" y="119.58" width="3.8" height="3.8" fill="#f000f0" transform="rotate(45 532.70 121.48)"/><path d="M565.00 115.99H572.00M568.50 112.19V119.79" stroke="#f000f0" stroke-width="2.9" fill="none"/><rect x="566.60" y="114.09" width="3.8" height="3.8" fill="#f000f0" transform="rotate(45 568.50 115.99)"/><path d="M600.80 113.76H607.80M604.30 109.96V117.56" stroke="#f000f0" stroke-width="2.9" fill="none"/><rect x="602.40" y="111.86" width="3.8" height="3.8" fill="#f000f0" transform="rotate(45 604.30 113.76)"/><path d="M636.60 108.69H643.60M640.10 104.89V112.49" stroke="#f000f0" stroke-width="2.9" fill="none"/><rect x="638.20" y="106.79" width="3.8" height="3.8" fill="#f000f0" transform="rotate(45 640.10 108.69)"/><path d="M672.40 110.58H679.40M675.90 106.78V114.38" stroke="#f000f0" stroke-width="2.9" fill="none"/><rect x="674.00" y="108.68" width="3.8" height="3.8" fill="#f000f0" transform="rotate(45 675.90 110.58)"/>
<text x="183" y="322" text-anchor="middle" class="a">Number of Compressive Measurements</text>
<text x="528.6" y="322" text-anchor="middle" class="a">Number of Compressive Measurements</text>
<text transform="translate(9.8 165.5) rotate(-90)" text-anchor="middle" class="a">Average Reconstruction Error</text>
<text transform="translate(355 165.6) rotate(-90)" text-anchor="middle" class="a">Average Running Time</text>
<text y="21" class="p"><tspan x="0.3">(</tspan><tspan x="8.0">a</tspan><tspan x="22.5">)</tspan></text>
<text y="21" class="p"><tspan x="346.1">(</tspan><tspan x="353.8">b</tspan><tspan x="367.8">)</tspan></text>
</svg>
</body></html>
